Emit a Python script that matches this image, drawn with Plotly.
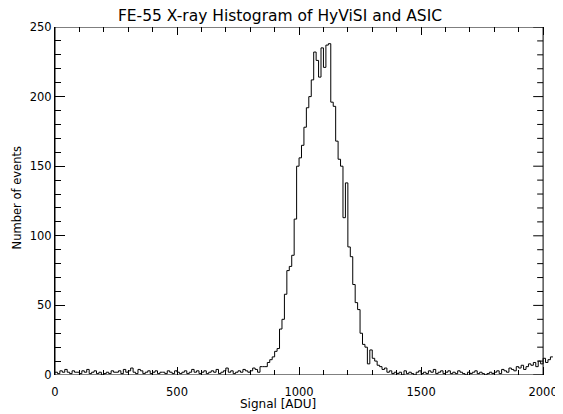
import plotly.graph_objects as go

# ---- data ----
bin_start = 0
bin_width = 10  # ADU

# 0 .. 840 ADU : background
counts_low = [2, 1, 3, 2, 4, 2, 1, 3, 2, 2,
              1, 3, 2, 4, 1, 2, 3, 1, 2, 0,
              1, 2, 1, 3, 2, 2, 3, 1, 4, 2,
              3, 5, 2, 1, 4, 3, 1, 2, 3, 1,
              2, 3, 1, 2, 2, 1, 3, 2, 1, 3,
              2, 1, 2, 3, 1, 2, 4, 2, 3, 1,
              2, 3, 1, 2, 3, 2, 4, 1, 2, 3,
              5, 2, 3, 1, 2, 3, 2, 4, 3, 2,
              3, 5, 4, 2, 6]
# 850 .. 1390 ADU : Fe-55 peak
counts_peak = [6, 6, 9, 11, 13, 17, 19, 33, 40, 58,
               75, 78, 86, 112, 150, 156, 165, 178, 192, 200,
               212, 232, 226, 214, 235, 221, 237, 238, 196, 193,
               168, 155, 150, 113, 138, 92, 85, 65, 52, 47,
               30, 22, 20, 8, 18, 12, 10, 7, 6, 4,
               5, 2, 3, 1, 2]
# 1400 .. 2030 ADU : background
counts_high = [1, 2, 0, 3, 1, 2, 1, 0, 2, 3,
               1, 2, 1, 3, 2, 4, 1, 2, 3, 1,
               2, 3, 1, 2, 1, 3, 2, 1, 0, 2,
               1, 2, 3, 1, 2, 1, 0, 1, 2, 1,
               2, 3, 1, 4, 3, 2, 5, 4, 3, 6,
               5, 7, 4, 6, 8, 7, 9, 6, 10, 8,
               12, 9, 11, 13]

x_ticks = [0, 500, 1000, 1500, 2000]
y_ticks = [0, 50, 100, 150, 200, 250]

title_text = "FE-55 X-ray Histogram of HyViSI and ASIC"
x_title = "Signal [ADU]"
y_title = "Number of events"

# ---- build ----
counts = counts_low + counts_peak + counts_high
edges = [bin_start + i * bin_width for i in range(len(counts) + 1)]
step_y = counts + [counts[-1]]

PAGE_W, PAGE_H = 563, 414
OFF = 8  # default body margin of the page
W, H = PAGE_W - OFF, PAGE_H - OFF

# target positions in page pixels
frame_l, frame_r, frame_t, frame_b = 55, 548, 27, 375
trace_r = 558

L = frame_l - OFF
T = frame_t - OFF
B = H - (frame_b - OFF)
R = W - (trace_r - OFF)
plot_w = W - L - R
plot_h = H - T - B
dfrac = (frame_r - frame_l) / plot_w
x_max = 2000
y_max = 250
x_full = x_max / dfrac


def px_x(px):
    return (px - frame_l) / plot_w


def px_y(py):
    return (frame_b - py) / plot_h


FONT = "DejaVu Sans, Liberation Sans, sans-serif"

fig = go.Figure()
fig.add_trace(go.Scatter(
    x=edges, y=step_y, mode="lines",
    line=dict(shape="hv", color="black", width=1),
    showlegend=False, hoverinfo="skip"))

shapes = [dict(type="rect", xref="x", yref="y", x0=0, x1=x_max, y0=0, y1=y_max,
               line=dict(color="black", width=1), fillcolor="rgba(0,0,0,0)",
               layer="above")]
# right-side ticks of the frame
xlen_major = 10 / (frame_r - frame_l) * x_max
xlen_minor = 6 / (frame_r - frame_l) * x_max
for v in range(0, y_max + 1, 10):
    ln = xlen_major if v % 50 == 0 else xlen_minor
    shapes.append(dict(type="line", xref="x", yref="y", x0=x_max - ln, x1=x_max,
                       y0=v, y1=v, line=dict(color="black", width=1)))

fig.update_layout(
    width=W, height=H,
    margin=dict(l=L, r=R, t=T, b=B),
    paper_bgcolor="white", plot_bgcolor="white",
    font=dict(family=FONT, color="black", size=12),
    title=dict(text=title_text, x=(280 - OFF) / W, xref="container", xanchor="center",
               y=1 - (16 - OFF) / H, yref="container", yanchor="middle",
               font=dict(size=15.5, family=FONT, color="black")),
    xaxis=dict(range=[0, x_full], domain=[0, 1], showgrid=False, zeroline=False,
               showline=False, ticks="inside", ticklen=8, tickwidth=1,
               tickcolor="black", tickvals=x_ticks, mirror="ticks",
               ticklabelstandoff=8,
               minor=dict(dtick=100, tick0=0, ticks="inside", ticklen=5,
                          tickcolor="black", tickwidth=1, showgrid=False),
               tickfont=dict(size=11.5, family=FONT)),
    yaxis=dict(range=[0, y_max], showgrid=False, zeroline=False,
               showline=True, linecolor="black", linewidth=1,
               ticks="inside", ticklen=10, tickwidth=1, tickcolor="black",
               tickvals=y_ticks,
               minor=dict(dtick=10, tick0=0, ticks="inside", ticklen=6,
                          tickcolor="black", tickwidth=1, showgrid=False),
               tickfont=dict(size=11.5, family=FONT)),
    shapes=shapes,
    annotations=[
        dict(text=x_title, xref="paper", yref="paper",
             x=px_x(280), y=px_y(404),
             xanchor="center", yanchor="middle", showarrow=False,
             font=dict(size=12, family=FONT)),
        dict(text=y_title, xref="paper", yref="paper",
             x=px_x(17), y=px_y(198),
             xanchor="center", yanchor="middle", showarrow=False, textangle=-90,
             font=dict(size=11.5, family=FONT)),
    ],
)

fig.write_html("out.html")
